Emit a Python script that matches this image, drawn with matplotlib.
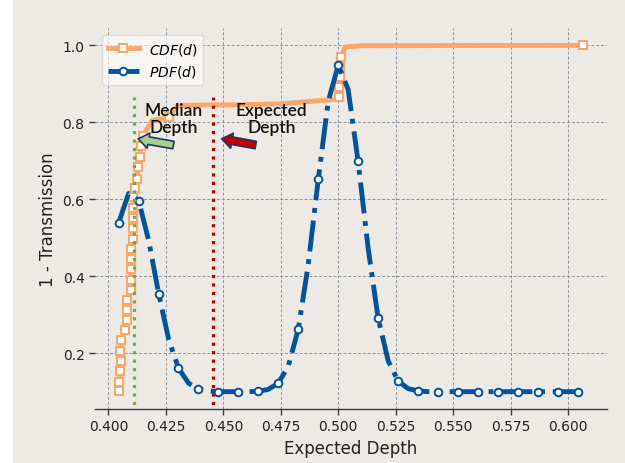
import matplotlib
matplotlib.use("Agg")
import matplotlib.pyplot as plt
from matplotlib.patches import Rectangle

# -------- data --------
pdf_x = [0.4045, 0.4088, 0.4132, 0.4175, 0.4219, 0.4262, 0.4305, 0.4349, 0.4392, 0.4436,
         0.4479, 0.4522, 0.4566, 0.4609, 0.4652, 0.4696, 0.4739, 0.4783, 0.4826, 0.4869,
         0.4913, 0.4956, 0.5000, 0.5043, 0.5086, 0.5130, 0.5173, 0.5217, 0.5260, 0.5303,
         0.5347, 0.5390, 0.5434, 0.5477, 0.5520, 0.5564, 0.5607, 0.5650, 0.5694, 0.5737,
         0.5781, 0.5824, 0.5867, 0.5911, 0.5954, 0.5997, 0.6041]
pdf_y = [0.539, 0.615, 0.596, 0.494, 0.355, 0.237, 0.161, 0.122, 0.107, 0.102,
         0.100, 0.100, 0.100, 0.100, 0.101, 0.106, 0.122, 0.167, 0.263, 0.429,
         0.652, 0.854, 0.949, 0.885, 0.699, 0.472, 0.292, 0.180, 0.128, 0.108,
         0.102, 0.100, 0.100, 0.100, 0.100, 0.100, 0.100, 0.100, 0.100, 0.100,
         0.100, 0.100, 0.100, 0.100, 0.100, 0.100, 0.100]

cdf_x = [0.4045, 0.4048, 0.4051, 0.4054, 0.4052, 0.4055, 0.4073, 0.4080, 0.4080, 0.4081,
         0.4100, 0.4097, 0.4097, 0.4097, 0.4097, 0.4106, 0.4106, 0.4106, 0.4106, 0.4109,
         0.4116, 0.4123, 0.4130, 0.4138, 0.4141, 0.4150, 0.4190, 0.4265, 0.4300, 0.4400,
         0.4600, 0.4750, 0.4850, 0.4950, 0.4995, 0.5003, 0.5005, 0.5007, 0.5009, 0.5012,
         0.5030, 0.5100, 0.6063]
cdf_y = [0.101, 0.126, 0.153, 0.181, 0.207, 0.233, 0.259, 0.286, 0.312, 0.338,
         0.365, 0.391, 0.419, 0.445, 0.471, 0.497, 0.525, 0.551, 0.577, 0.605,
         0.629, 0.652, 0.683, 0.709, 0.738, 0.764, 0.805, 0.813, 0.843, 0.845,
         0.846, 0.848, 0.853, 0.858, 0.860, 0.867, 0.893, 0.919, 0.945, 0.971,
         0.996, 0.999, 1.000]
cdf_marks = list(range(0, 26)) + [27, 35, 36, 37, 38, 39, 42]

median_depth = 0.4113
expected_depth = 0.4457

x_ticks = [0.400, 0.425, 0.450, 0.475, 0.500, 0.525, 0.550, 0.575, 0.600]
y_ticks = [0.2, 0.4, 0.6, 0.8, 1.0]

BG = "#ede9e5"
ORANGE = "#fca76a"
BLUE = "#00549f"
GREEN = "#70ad47"
RED = "#c00000"
NAVY = "#203864"


def main():
    fig = plt.figure(figsize=(6.25, 4.64), dpi=100)
    fig.patch.set_facecolor("white")
    fig.patches.append(Rectangle((13 / 625, 0), 1, 1, transform=fig.transFigure,
                                 facecolor=BG, edgecolor="none", zorder=-10))
    ax = fig.add_axes([0.152, 0.1164, 0.819, 0.821])
    ax.set_facecolor(BG)

    ax.grid(True, color="#8a939d", linestyle=(0, (3, 2)), linewidth=0.7, zorder=0)
    ax.set_axisbelow(True)

    ax.plot(cdf_x, cdf_y, color=ORANGE, lw=3.5, marker="s", markersize=5.5,
            markerfacecolor="white", markeredgecolor=ORANGE, markeredgewidth=1.5,
            markevery=cdf_marks, label="$CDF(d)$", zorder=3)
    ax.plot(pdf_x, pdf_y, color=BLUE, lw=3.5, linestyle="-.", marker="o",
            markersize=5.5, markerfacecolor="white", markeredgecolor=BLUE,
            markeredgewidth=1.4, markevery=2, label="$PDF(d)$", zorder=4)

    ax.vlines(median_depth, 0, 0.866, colors=GREEN, linestyles=":", lw=2.3, zorder=5)
    ax.vlines(expected_depth, 0, 0.866, colors=RED, linestyles=":", lw=2.3, zorder=5)

    style = "simple,head_length=0.75,head_width=1.1,tail_width=0.55"
    ax.annotate("", xy=(0.4130, 0.757), xytext=(0.4283, 0.741),
                arrowprops=dict(arrowstyle=style, fc="#a9d18e", ec=NAVY, lw=1.2,
                                shrinkA=0, shrinkB=0), zorder=6)
    ax.annotate("", xy=(0.4493, 0.757), xytext=(0.4641, 0.741),
                arrowprops=dict(arrowstyle=style, fc=RED, ec=NAVY, lw=1.2,
                                shrinkA=0, shrinkB=0), zorder=6)

    txt = dict(ha="center", va="center", fontsize=12.5, family="Lato",
               fontweight="semibold", color="#111111", linespacing=1.1, zorder=7)
    ax.text(0.4284, 0.81, "Median\nDepth", **txt)
    ax.text(0.4710, 0.81, "Expected\nDepth", **txt)

    ax.set_xlim(0.3942, 0.6168)
    ax.set_ylim(0.055, 1.045)
    ax.set_xticks(x_ticks)
    ax.set_xticklabels([f"{t:.3f}" for t in x_ticks])
    ax.set_yticks(y_ticks)
    ax.set_yticklabels([f"{t:.1f}" for t in y_ticks])

    for side in ["top", "right", "left"]:
        ax.spines[side].set_visible(False)
    ax.spines["bottom"].set_color("#3a3a3a")
    ax.spines["bottom"].set_linewidth(1.0)
    ax.tick_params(colors="#3a3a3a", labelsize=10, length=4, width=1.0,
                   labelcolor="#222222")

    ax.set_xlabel("Expected Depth", fontsize=12, color="#222222")
    ax.set_ylabel("1 - Transmission", fontsize=12, color="#222222")

    leg = ax.legend(loc="upper left", fontsize=10, handlelength=2.3,
                    handletextpad=0.7, fancybox=True, framealpha=0.6,
                    facecolor="white", edgecolor="#d0d0d0")
    leg.set_zorder(10)

    fig.savefig("out.png", dpi=100, facecolor=fig.get_facecolor())


if __name__ == "__main__":
    main()
